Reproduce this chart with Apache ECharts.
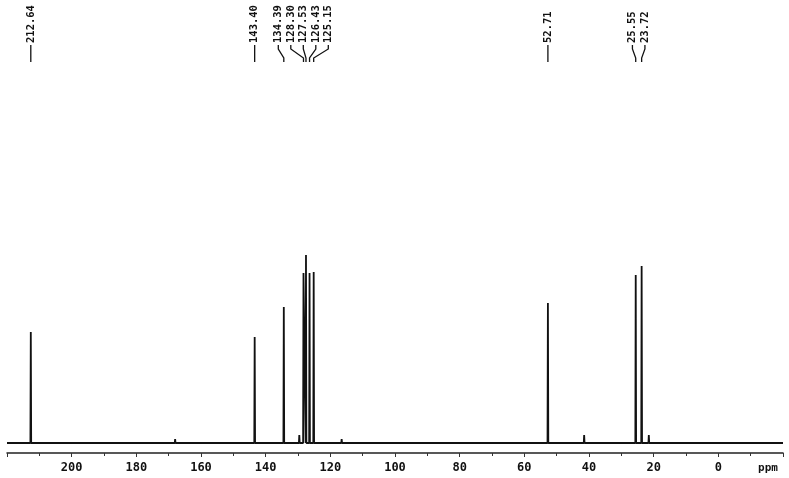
<!DOCTYPE html>
<html>
<head>
<meta charset="utf-8">
<script src="https://cdn.jsdelivr.net/npm/echarts@6/dist/echarts.min.js"></script>
<style>
  html, body { margin: 0; padding: 0; background: #fff; }
  #spectrum { width: 789px; height: 478px; }
</style>
</head>
<body>
<div id="spectrum"></div>
<script>
// labelled peaks (ppm) and their heights
const peakPpm    = [212.64, 143.40, 134.39, 128.30, 127.53, 126.43, 125.15, 52.71, 25.55, 23.72];
const peakHeight = [111, 106, 136, 170, 188, 170, 171, 140, 168, 177];
// small unlabelled bumps
const minorPpm    = [168.0, 129.6, 116.5, 41.5, 21.5];
const minorHeight = [4, 8, 4, 8, 8];
// x axis
const ppmMin = -20;
const ppmMax = 220;
const ppmStep = 20;

// build the trace: flat baseline with narrow lines at each peak
function buildTrace() {
  let pk = [];
  peakPpm.forEach((p, i) => pk.push([p, peakHeight[i]]));
  minorPpm.forEach((p, i) => pk.push([p, minorHeight[i]]));
  pk.sort((a, b) => a[0] - b[0]);
  let pts = [[ppmMin, 0]];
  for (const [p, h] of pk) {
    pts.push([p - 0.12, 0]);
    pts.push([p, h]);
    pts.push([p + 0.12, 0]);
  }
  pts.push([ppmMax, 0]);
  return pts;
}

// spread labels so they don't overlap, centered on their peaks
function layoutLabels(xs, gap) {
  let groups = xs.map((x, i) => ({ idx: [i], sum: x }));
  const lo = (g) => g.sum / g.idx.length - (g.idx.length - 1) * gap / 2;
  const hi = (g) => g.sum / g.idx.length + (g.idx.length - 1) * gap / 2;
  let merged = true;
  while (merged) {
    merged = false;
    for (let k = 0; k < groups.length - 1; k++) {
      if (lo(groups[k + 1]) - hi(groups[k]) < gap) {
        groups[k].idx = groups[k].idx.concat(groups[k + 1].idx);
        groups[k].sum += groups[k + 1].sum;
        groups.splice(k + 1, 1);
        merged = true;
        break;
      }
    }
  }
  let out = [];
  for (const g of groups) {
    const start = lo(g);
    g.idx.forEach((i, k) => { out[i] = start + k * gap; });
  }
  return out;
}

const myChart = echarts.init(document.getElementById('spectrum'), null, { renderer: 'canvas' });

const labelFont = 'bold 10.5px "DejaVu Sans Mono", monospace';

const option = {
  animation: false,
  backgroundColor: '#fff',
  grid: { left: 7, right: 6, top: 63, bottom: 25 },
  xAxis: {
    type: 'value',
    inverse: true,
    min: ppmMin,
    max: ppmMax,
    interval: ppmStep,
    name: 'ppm',
    nameLocation: 'start',
    nameGap: -15,
    nameTextStyle: {
      color: '#111',
      fontFamily: 'DejaVu Sans Mono',
      fontWeight: 'bold',
      fontSize: 11,
      align: 'center',
      verticalAlign: 'top',
      padding: [10, 0, 0, 0]
    },
    axisLine: { onZero: false, lineStyle: { color: '#222', width: 1.5 } },
    axisTick: { length: 4, lineStyle: { color: '#333', width: 1 } },
    minorTick: { show: true, splitNumber: 2, length: 3, lineStyle: { color: '#333', width: 1 } },
    splitLine: { show: false },
    axisLabel: {
      margin: 9,
      color: '#111',
      fontFamily: 'DejaVu Sans Mono',
      fontWeight: 'bold',
      fontSize: 12,
      formatter: (v) => (v === ppmMin || v === ppmMax) ? '' : String(v)
    }
  },
  yAxis: {
    type: 'value',
    min: -10,
    max: 380,
    show: false
  },
  series: [
    {
      type: 'line',
      data: buildTrace(),
      symbol: 'none',
      lineStyle: { color: '#111', width: 1.8 },
      clip: false
    },
    {
      // peak labels across the top with leader lines
      type: 'custom',
      data: peakPpm.map((p) => [p, 0]),
      renderItem: function (params, api) {
        const xs = peakPpm.map((p) => api.coord([p, 0])[0]);
        const lx = layoutLabels(xs, 12.5);
        const i = params.dataIndex;
        const px = xs[i];
        const tx = lx[i];
        return {
          type: 'group',
          children: [
            {
              type: 'polyline',
              shape: { points: [[tx, 45], [tx, 49], [px, 58], [px, 62]] },
              style: { stroke: '#111', lineWidth: 1.3, fill: null }
            },
            {
              type: 'text',
              x: tx,
              y: 43,
              rotation: Math.PI / 2,
              style: {
                text: peakPpm[i].toFixed(2),
                font: labelFont,
                fill: '#111',
                align: 'left',
                verticalAlign: 'middle'
              }
            }
          ]
        };
      },
      clip: false,
      silent: true
    }
  ]
};

myChart.setOption(option);
</script>
</body>
</html>
